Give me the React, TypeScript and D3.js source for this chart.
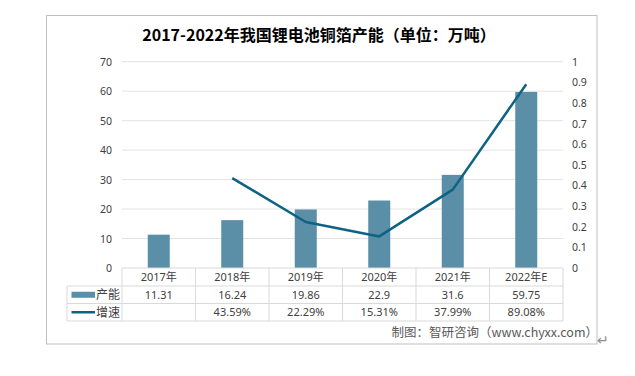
import React from "react";
import * as d3 from "d3";

const categories = ["2017年", "2018年", "2019年", "2020年", "2021年", "2022年E"];
const capacity = [11.31, 16.24, 19.86, 22.9, 31.6, 59.75];
const growth: (number | null)[] = [null, 0.4359, 0.2229, 0.1531, 0.3799, 0.8908];
const capacityLabels = ["11.31", "16.24", "19.86", "22.9", "31.6", "59.75"];
const growthLabels = ["", "43.59%", "22.29%", "15.31%", "37.99%", "89.08%"];
const leftTicks = [0, 10, 20, 30, 40, 50, 60, 70];
const rightTicks = [0, 0.1, 0.2, 0.3, 0.4, 0.5, 0.6, 0.7, 0.8, 0.9, 1];
const seriesNames = ["产能", "增速"];
const title = "2017-2022年我国锂电池铜箔产能（单位：万吨）";
const source = "制图：智研咨询（www.chyxx.com）";

const BAR = "#5b8fa7";
const LINE = "#0e6384";
const TEXT = "#404040";
const GRID = "#e3e3e3";
const TABLE = "#d9d9d9";
const FONT = "'Noto Sans', 'Noto Sans CJK SC', sans-serif";

export default function App() {
  const W = 635, H = 376;
  const pl = 122, pr = 563, pt = 61.7, pb = 268;
  const x = d3.scaleBand<string>().domain(categories).range([pl, pr]).paddingInner(0).paddingOuter(0);
  const yL = d3.scaleLinear().domain([0, 70]).range([pb, pt]);
  const yR = d3.scaleLinear().domain([0, 1]).range([pb, pt]);
  const bw = x.bandwidth();
  const barW = 22;
  const cx = (c: string) => (x(c) as number) + bw / 2;

  const lineGen = d3
    .line<[string, number | null]>()
    .defined((d) => d[1] !== null)
    .x((d) => cx(d[0]))
    .y((d) => yR(d[1] as number));
  const linePath = lineGen(categories.map((c, i) => [c, growth[i]]) as [string, number | null][]) || "";

  const r0 = 268, r1 = 286, r2 = 303.5, r3 = 321;
  const tl = 67;

  return (
    <svg width={W} height={H} style={{ position: "absolute", left: 0, top: 0, background: "#fff" }} fontFamily={FONT}>
      <rect x={0} y={0} width={W} height={H} fill="#fff" />
      <rect x={46.5} y={15.5} width={550.5} height={328.5} fill="#fff" stroke="#bfbfbf" strokeWidth={1} />
      <text x={319} y={41} textAnchor="middle" fontSize={16} fontWeight="bold" fill="#000" fontFamily="'Noto Sans CJK SC', sans-serif">
        {title}
      </text>

      {leftTicks.slice(1).map((t) => (
        <line key={"g" + t} x1={pl} x2={pr} y1={yL(t)} y2={yL(t)} stroke={GRID} strokeWidth={1} />
      ))}
      {leftTicks.map((t) => (
        <text key={"l" + t} x={112} y={yL(t) + 4} textAnchor="end" fontSize={10.5} fill={TEXT}>
          {t}
        </text>
      ))}
      {rightTicks.map((t) => (
        <text key={"r" + t} x={572} y={yR(t) + 4} textAnchor="start" fontSize={10.5} fill={TEXT}>
          {d3.format("~g")(t)}
        </text>
      ))}

      {categories.map((c, i) => (
        <rect key={"b" + c} x={cx(c) - barW / 2} y={yL(capacity[i])} width={barW} height={pb - yL(capacity[i])} fill={BAR} />
      ))}

      <path d={linePath} fill="none" stroke={LINE} strokeWidth={2.5} strokeLinejoin="round" />

      {/* table */}
      <line x1={pl} x2={pr} y1={r0} y2={r0} stroke={TABLE} />
      {[r1, r2, r3].map((r) => (
        <line key={"h" + r} x1={tl} x2={pr} y1={r} y2={r} stroke={TABLE} />
      ))}
      <line x1={tl} x2={tl} y1={r1} y2={r3} stroke={TABLE} />
      {[...categories.map((c) => x(c) as number), pr].map((vx, i) => (
        <line key={"v" + i} x1={vx} x2={vx} y1={r0} y2={r3} stroke={TABLE} />
      ))}
      {categories.map((c, i) => (
        <g key={"t" + c}>
          <text x={cx(c)} y={(r0 + r1) / 2 + 4} textAnchor="middle" fontSize={11} fill={TEXT}>{c}</text>
          <text x={cx(c)} y={(r1 + r2) / 2 + 4} textAnchor="middle" fontSize={11} fill={TEXT}>{capacityLabels[i]}</text>
          <text x={cx(c)} y={(r2 + r3) / 2 + 4} textAnchor="middle" fontSize={11} fill={TEXT}>{growthLabels[i]}</text>
        </g>
      ))}
      <rect x={71.5} y={(r1 + r2) / 2 - 3} width={23.5} height={6} fill={BAR} />
      <text x={96} y={(r1 + r2) / 2 + 4.5} fontSize={12} fill={TEXT} fontFamily="'Noto Sans CJK SC', sans-serif">{seriesNames[0]}</text>
      <line x1={71.5} x2={95} y1={(r2 + r3) / 2} y2={(r2 + r3) / 2} stroke={LINE} strokeWidth={2.5} />
      <text x={96} y={(r2 + r3) / 2 + 4.5} fontSize={12} fill={TEXT} fontFamily="'Noto Sans CJK SC', sans-serif">{seriesNames[1]}</text>

      <text x={598} y={337} textAnchor="end" fontSize={12.5} fill="#595959" fontFamily="'Noto Sans CJK SC', sans-serif">
        {source}
      </text>
      <text x={597} y={345} fontSize={14} fill="#8c8c8c" fontFamily="'DejaVu Sans', sans-serif">↵</text>
    </svg>
  );
}
